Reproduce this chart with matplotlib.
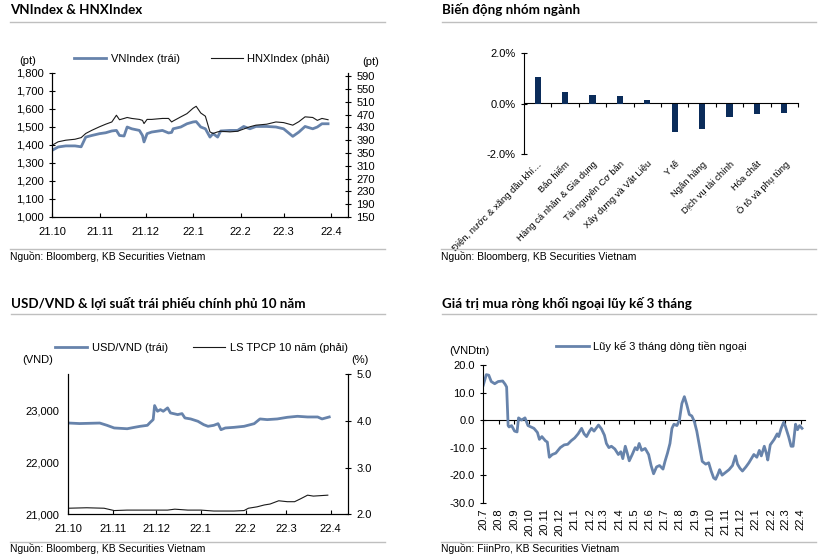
import matplotlib
matplotlib.use('Agg')
import matplotlib.pyplot as plt
import pandas as pd
from matplotlib.lines import Line2D
from matplotlib.ticker import FuncFormatter

plt.rcParams['font.family'] = ['Liberation Sans', 'DejaVu Sans']
plt.rcParams['font.size'] = 8

BLUE = '#6783ab'
NAVY = '#0b2c5a'
GRAY = '#bfbfbf'
TITLE_FONT = ['Lato', 'DejaVu Sans']
W, H = 839, 559

# ---- VNIndex & HNXIndex ----
idx_dates = ['2021-10-01', '2021-10-05', '2021-10-10', '2021-10-16', '2021-10-20', '2021-10-23',
             '2021-10-27', '2021-11-01', '2021-11-05', '2021-11-09', '2021-11-12', '2021-11-14',
             '2021-11-17', '2021-11-19', '2021-11-22', '2021-11-27', '2021-11-29', '2021-11-30',
             '2021-12-02', '2021-12-05', '2021-12-12', '2021-12-16', '2021-12-18', '2021-12-19',
             '2021-12-24', '2021-12-28', '2022-01-01', '2022-01-03', '2022-01-06', '2022-01-09',
             '2022-01-12', '2022-01-14', '2022-01-17', '2022-01-19', '2022-01-25', '2022-01-30',
             '2022-02-03', '2022-02-07', '2022-02-11', '2022-02-18', '2022-02-24', '2022-03-01',
             '2022-03-07', '2022-03-11', '2022-03-15', '2022-03-20', '2022-03-23', '2022-03-26',
             '2022-03-30']
vnindex = [1370, 1389, 1395, 1395, 1390, 1444, 1453, 1463, 1468, 1478, 1481, 1453,
           1450, 1500, 1490, 1481, 1453, 1417, 1463, 1472, 1481, 1467, 1470, 1490,
           1500, 1518, 1528, 1530, 1500, 1490, 1444, 1463, 1444, 1478, 1481, 1481,
           1503, 1490, 1503, 1503, 1500, 1490, 1448, 1472, 1503, 1490, 1500, 1518,
           1518]
hnxindex = [374, 385, 390, 393, 398, 411, 421, 432, 440, 447, 468, 454,
            458, 461, 458, 455, 452, 442, 455, 455, 458, 458, 447, 450,
            463, 473, 490, 496, 475, 465, 416, 411, 416, 418, 416, 418,
            425, 432, 437, 440, 447, 445, 437, 448, 463, 461, 452, 458,
            454]
idx_ticks = ['2021-10-01', '2021-11-01', '2021-12-01', '2022-01-01', '2022-02-01', '2022-03-01', '2022-04-01']
idx_labels = ['21.10', '21.11', '21.12', '22.1', '22.2', '22.3', '22.4']

# ---- Biến động nhóm ngành ----
sectors = ['Điện, nước & xăng dầu khí…', 'Bảo hiểm', 'Hàng cá nhân & Gia dụng', 'Tài nguyên Cơ bản',
           'Xây dựng và Vật Liệu', 'Y tế', 'Ngân hàng', 'Dịch vụ tài chính', 'Hóa chất', 'Ô tô và phụ tùng']
sector_chg = [1.05, 0.47, 0.32, 0.31, 0.12, -1.13, -1.00, -0.53, -0.40, -0.36]

# ---- USD/VND & LS TPCP 10 năm ----
fx_dates = ['2021-10-01', '2021-10-09', '2021-10-23', '2021-10-28', '2021-11-02', '2021-11-11',
            '2021-11-16', '2021-11-20', '2021-11-25', '2021-11-27', '2021-11-29', '2021-11-30',
            '2021-12-02', '2021-12-04', '2021-12-06', '2021-12-09', '2021-12-11', '2021-12-16',
            '2021-12-19', '2021-12-21', '2021-12-25', '2021-12-30', '2022-01-03', '2022-01-06',
            '2022-01-10', '2022-01-13', '2022-01-15', '2022-01-18', '2022-01-24', '2022-01-31',
            '2022-02-07', '2022-02-11', '2022-02-16', '2022-02-23', '2022-03-02', '2022-03-09',
            '2022-03-16', '2022-03-23', '2022-03-26', '2022-03-31']
usdvnd = [22761, 22750, 22760, 22716, 22665, 22650, 22677, 22697, 22716, 22774, 22826, 23097,
          22987, 23019, 22987, 23052, 22955, 22923, 22942, 22858, 22839, 22794, 22729, 22697,
          22716, 22748, 22632, 22665, 22677, 22697, 22748, 22839, 22826, 22839, 22871, 22890,
          22877, 22877, 22839, 22877]
bond_dates = ['2021-10-01', '2021-10-14', '2021-10-26', '2021-11-02', '2021-11-11', '2021-11-25',
              '2021-12-09', '2021-12-14', '2021-12-23', '2022-01-01', '2022-01-10', '2022-01-24',
              '2022-01-31', '2022-02-03', '2022-02-09', '2022-02-14', '2022-02-18', '2022-02-24',
              '2022-03-02', '2022-03-07', '2022-03-11', '2022-03-16', '2022-03-20', '2022-03-25',
              '2022-03-30']
bond_10y = [2.13, 2.14, 2.13, 2.08, 2.09, 2.09, 2.09, 2.11, 2.09, 2.09, 2.07, 2.07,
            2.08, 2.13, 2.16, 2.20, 2.22, 2.29, 2.27, 2.27, 2.33, 2.41, 2.39, 2.40,
            2.41]

# ---- Giá trị mua ròng khối ngoại lũy kế 3 tháng ----
flow_dates = ['2020-07-01', '2020-07-07', '2020-07-12', '2020-07-17', '2020-07-24', '2020-07-31',
              '2020-08-09', '2020-08-14', '2020-08-17', '2020-08-20', '2020-08-22', '2020-08-27',
              '2020-09-02', '2020-09-07', '2020-09-10', '2020-09-16', '2020-09-23', '2020-09-29',
              '2020-10-11', '2020-10-18', '2020-10-22', '2020-10-27', '2020-11-03', '2020-11-07',
              '2020-11-11', '2020-11-17', '2020-11-24', '2020-12-03', '2020-12-11', '2020-12-18',
              '2020-12-25', '2021-01-01', '2021-01-08', '2021-01-15', '2021-01-20', '2021-01-25',
              '2021-01-31', '2021-02-04', '2021-02-09', '2021-02-18', '2021-02-24', '2021-03-02',
              '2021-03-06', '2021-03-11', '2021-03-16', '2021-03-23', '2021-03-30', '2021-04-04',
              '2021-04-08', '2021-04-13', '2021-04-17', '2021-04-21', '2021-04-27', '2021-05-03',
              '2021-05-07', '2021-05-11', '2021-05-16', '2021-05-23', '2021-05-30', '2021-06-04',
              '2021-06-09', '2021-06-15', '2021-06-21', '2021-06-28', '2021-07-02', '2021-07-07',
              '2021-07-12', '2021-07-16', '2021-07-20', '2021-07-26', '2021-07-31', '2021-08-05',
              '2021-08-10', '2021-08-15', '2021-08-20', '2021-08-25', '2021-08-30', '2021-09-04',
              '2021-09-10', '2021-09-15', '2021-09-22', '2021-09-28', '2021-10-03', '2021-10-08',
              '2021-10-12', '2021-10-17', '2021-10-20', '2021-10-25', '2021-11-01', '2021-11-08',
              '2021-11-15', '2021-11-21', '2021-11-25', '2021-11-30', '2021-12-05', '2021-12-12',
              '2021-12-18', '2021-12-23', '2021-12-28', '2022-01-03', '2022-01-08', '2022-01-12',
              '2022-01-18', '2022-01-22', '2022-01-25', '2022-01-30', '2022-02-07', '2022-02-13',
              '2022-02-16', '2022-02-21', '2022-02-26', '2022-03-01', '2022-03-08', '2022-03-13',
              '2022-03-17', '2022-03-22', '2022-03-26', '2022-03-30', '2022-04-04']
foreign_3m = [12.7, 16.5, 16.3, 14.0, 13.2, 14.0,
              14.2, 13.0, 12.0, -2.0, -2.5, -2.0,
              -4.0, -4.3, 0.8, 0.0, 0.8, -2.0,
              -3.0, -4.5, -7.0, -6.0, -7.5, -8.0,
              -13.5, -12.5, -12.0, -10.0, -9.0, -8.8,
              -7.5, -6.5, -5.0, -3.0, -5.0, -6.0,
              -4.0, -3.0, -4.0, -1.8, -3.2, -5.5,
              -8.5, -10.0, -9.5, -10.5, -12.5, -11.5,
              -14.0, -9.5, -12.0, -14.8, -12.5, -10.0,
              -10.8, -8.5, -11.0, -10.3, -12.5, -16.5,
              -19.5, -17.0, -16.5, -17.8, -15.0, -12.0,
              -8.5, -3.0, -1.5, -2.0, 0.0, 6.0,
              8.5, 5.5, 2.0, 1.5, -0.5, -4.0,
              -10.0, -15.0, -16.0, -15.5, -18.5, -21.0,
              -21.5, -19.5, -18.0, -20.0, -19.0, -18.0,
              -16.5, -13.0, -16.0, -17.5, -18.5, -17.0,
              -15.5, -14.0, -12.5, -13.5, -11.0, -13.0,
              -9.5, -12.0, -14.5, -9.0, -7.0, -5.0,
              -6.0, -3.0, -0.8, -2.0, -6.0, -9.5,
              -9.5, -1.5, -3.5, -2.0, -3.0]
flow_ticks = pd.date_range('2020-07-01', '2022-04-01', freq='MS')
flow_labels = ['20.7', '20.8', '20.9', '20.10', '20.11', '20.12', '21.1', '21.2', '21.3', '21.4', '21.5',
               '21.6', '21.7', '21.8', '21.9', '21.10', '21.11', '21.12', '22.1', '22.2', '22.3', '22.4']


def px_axes(x0, y0, x1, y1):
    # pixel box (top-left origin) -> figure axes
    return fig.add_axes([x0 / W, 1 - y1 / H, (x1 - x0) / W, (y1 - y0) / H])


def header(x0, x1, y_title, y_line, text):
    fig.text(x0 / W, 1 - y_title / H, text, fontsize=9.6, fontweight='bold',
             family=TITLE_FONT, ha='left', va='center')
    fig.add_artist(Line2D([x0 / W, x1 / W], [1 - y_line / H] * 2, color=GRAY, lw=1))


def footer(x0, x1, y_line, y_text, text):
    fig.add_artist(Line2D([x0 / W, x1 / W], [1 - y_line / H] * 2, color=GRAY, lw=1))
    fig.text(x0 / W, 1 - y_text / H, text, fontsize=7.5, ha='left', va='center')


def unit(x, y, text):
    fig.text(x / W, 1 - y / H, text, fontsize=8, ha='center', va='center')


fig = plt.figure(figsize=(W / 100, H / 100), dpi=100)

# ===== Panel 1 =====
header(10, 385, 10, 22, 'VNIndex & HNXIndex')
footer(10, 385, 249, 256, 'Nguồn: Bloomberg, KB Securities Vietnam')
ax1 = px_axes(52, 73, 348, 217)
d1 = pd.to_datetime(idx_dates)
l1, = ax1.plot(d1, vnindex, color=BLUE, lw=2, label='VNIndex (trái)')
ax1.set_ylim(1000, 1800)
ax1.set_yticks(range(1000, 1801, 100))
ax1.yaxis.set_major_formatter(FuncFormatter(lambda v, p: f'{v:,.0f}'))
ax1.set_xlim(pd.Timestamp('2021-10-01'), pd.Timestamp('2022-04-12'))
ax1.set_xticks(pd.to_datetime(idx_ticks))
ax1.set_xticklabels(idx_labels)
ax1.tick_params(axis='x', direction='in', length=3, pad=7)
ax1.tick_params(axis='y', direction='inout', length=5)
ax1b = ax1.twinx()
l2, = ax1b.plot(d1, hnxindex, color='#1a1a1a', lw=0.8, label='HNXIndex (phải)')
ax1b.set_ylim(150, 600)
ax1b.set_yticks(range(150, 600, 40))
ax1b.tick_params(axis='y', direction='inout', length=5)
for a in (ax1, ax1b):
    a.spines['top'].set_visible(False)
ax1.legend(handles=[l1, l2], loc='center', bbox_to_anchor=(0.507, 1.097), ncol=2, frameon=False,
           handlelength=2.9, handletextpad=0.4, columnspacing=2.8, fontsize=8)
unit(28, 61, '(pt)')
unit(371, 62, '(pt)')

# ===== Panel 2 =====
header(442, 816, 10, 22, 'Biến động nhóm ngành')
footer(441, 816, 249, 256, 'Nguồn: Bloomberg, KB Securities Vietnam')
ax2 = px_axes(524, 53, 798, 154)
pos = list(range(len(sectors)))
ax2.bar(pos, sector_chg, width=0.23, color=NAVY)
ax2.set_xlim(-0.5, len(sectors) - 0.5)
ax2.set_ylim(-2, 2)
ax2.set_yticks([-2, 0, 2])
ax2.yaxis.set_major_formatter(FuncFormatter(lambda v, p: f'{v:.1f}%'))
ax2.tick_params(axis='y', direction='inout', length=5)
ax2.set_xticks(pos)
ax2.set_xticklabels(sectors, rotation=45, ha='right', rotation_mode='anchor', fontsize=6.8)
ax2.tick_params(axis='x', length=0, pad=4)
for s in ('top', 'right', 'bottom'):
    ax2.spines[s].set_visible(False)
zero2 = ax2.secondary_xaxis(0.5)
zero2.set_xticks([p + 0.5 for p in pos])
zero2.set_xticklabels([])
zero2.tick_params(direction='in', length=3)

# ===== Panel 3 =====
header(11, 385, 303, 314, 'USD/VND & lợi suất trái phiếu chính phủ 10 năm')
footer(10, 385, 542, 548, 'Nguồn: Bloomberg, KB Securities Vietnam')
ax3 = px_axes(68, 374.3, 348, 514.3)
l3, = ax3.plot(pd.to_datetime(fx_dates), usdvnd, color=BLUE, lw=2, label='USD/VND (trái)')
ax3.set_ylim(21000, 23700)
ax3.set_yticks([21000, 22000, 23000])
ax3.yaxis.set_major_formatter(FuncFormatter(lambda v, p: f'{v:,.0f}'))
ax3.tick_params(axis='y', length=0, pad=6)
ax3.set_xlim(pd.Timestamp('2021-10-01'), pd.Timestamp('2022-04-13'))
ax3.set_xticks(pd.to_datetime(idx_ticks))
ax3.set_xticklabels(idx_labels)
ax3.tick_params(axis='x', direction='in', length=3, pad=7)
ax3b = ax3.twinx()
l4, = ax3b.plot(pd.to_datetime(bond_dates), bond_10y, color='#1a1a1a', lw=0.8, label='LS TPCP 10 năm (phải)')
ax3b.set_ylim(2.0, 5.0)
ax3b.set_yticks([2.0, 3.0, 4.0, 5.0])
ax3b.yaxis.set_major_formatter(FuncFormatter(lambda v, p: f'{v:.1f}'))
ax3b.tick_params(axis='y', direction='inout', length=5)
for a in (ax3, ax3b):
    a.spines['top'].set_visible(False)
ax3.legend(handles=[l3, l4], loc='center', bbox_to_anchor=(0.476, 1.188), ncol=2, frameon=False,
           handlelength=2.9, handletextpad=0.4, columnspacing=2.25, fontsize=8)
unit(38, 360, '(VND)')
unit(360, 360, '(%)')

# ===== Panel 4 =====
header(442, 816, 303, 314, 'Giá trị mua ròng khối ngoại lũy kế 3 tháng')
footer(441, 816, 542, 548, 'Nguồn: FiinPro, KB Securities Vietnam')
ax4 = px_axes(483.3, 365, 805, 502.7)
l5, = ax4.plot(pd.to_datetime(flow_dates), foreign_3m, color=BLUE, lw=2, label='Lũy kế 3 tháng dòng tiền ngoại')
ax4.set_ylim(-30, 20)
ax4.set_yticks(range(-30, 21, 10))
ax4.yaxis.set_major_formatter(FuncFormatter(lambda v, p: f'{v:.1f}'))
ax4.tick_params(axis='y', direction='inout', length=5)
ax4.set_xlim(pd.Timestamp('2020-07-01'), pd.Timestamp('2022-04-10'))
ax4.set_xticks(flow_ticks)
ax4.set_xticklabels(flow_labels, rotation=90, ha='center', va='top')
ax4.tick_params(axis='x', length=0, pad=4)
for s in ('top', 'right', 'bottom'):
    ax4.spines[s].set_visible(False)
zero4 = ax4.secondary_xaxis(0.6)
zero4.set_xticks(flow_ticks)
zero4.set_xticklabels([])
zero4.tick_params(direction='in', length=3)
ax4.legend(handles=[l5], loc='center', bbox_to_anchor=(0.523, 1.133), frameon=False,
           handlelength=2.9, handletextpad=0.4, fontsize=8)
unit(469, 351, '(VNDtn)')

fig.savefig('out.png', dpi=100)
